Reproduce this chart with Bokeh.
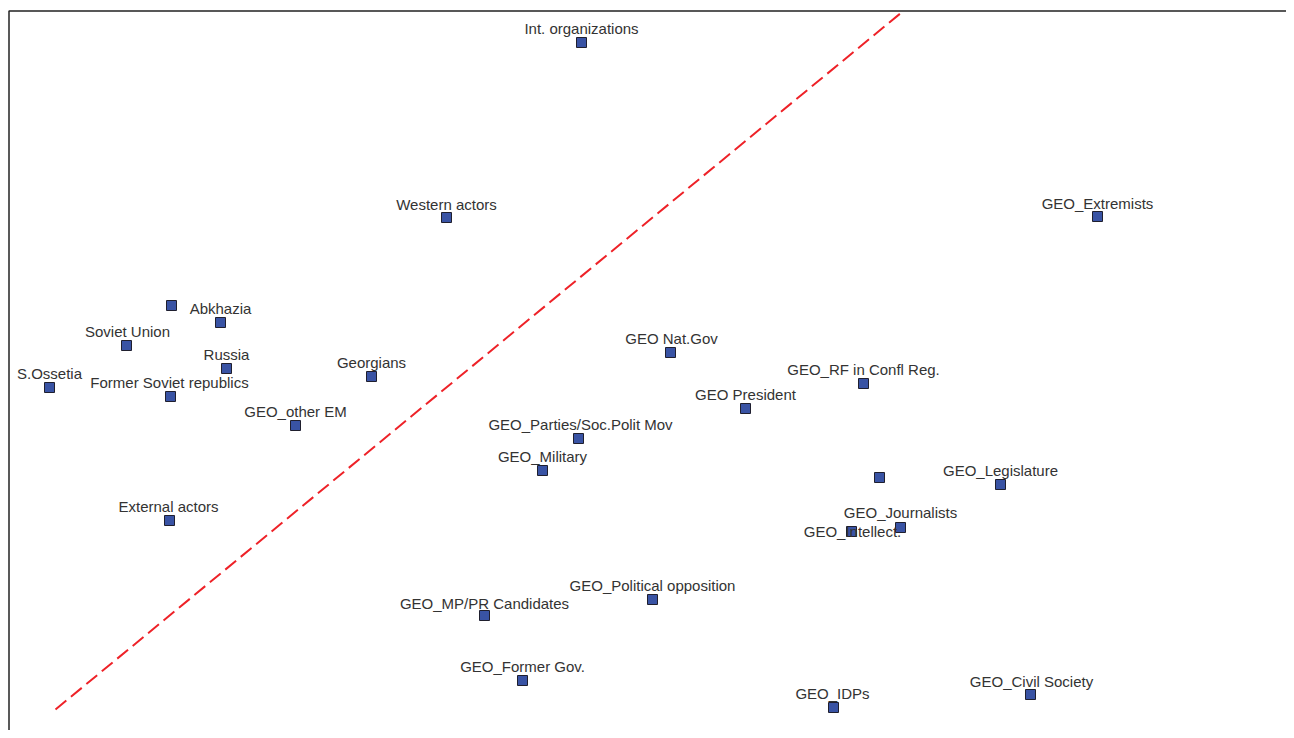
from bokeh.plotting import figure
from bokeh.models import ColumnDataSource, Range1d
from bokeh.core.properties import value
from bokeh.embed import file_html
from bokeh.resources import INLINE

# Actors (perceptual map positions)
names = [
    "Int. organizations", "Western actors", "GEO_Extremists", "", "Abkhazia",
    "Soviet Union", "Russia", "S.Ossetia", "Former Soviet republics", "Georgians",
    "GEO_other EM", "GEO Nat.Gov", "GEO_RF in Confl Reg.", "GEO President",
    "GEO_Parties/Soc.Polit Mov", "GEO_Military", "", "GEO_Legislature",
    "GEO_Journalists", "GEO_Intellect.", "External actors",
    "GEO_Political opposition", "GEO_MP/PR Candidates", "GEO_Former Gov.",
    "GEO_IDPs", "GEO_Civil Society",
]
dim1 = [581, 446, 1097, 171, 220, 126, 226, 49, 170, 371, 295, 670, 863, 745,
        578, 542, 879, 1000, 900, 851, 169, 652, 484, 522, 833, 1030]
dim2 = [696, 521, 522, 433, 416, 393, 370, 351, 342, 362, 313, 386, 355, 330,
        300, 268, 261, 254, 211, 207, 218, 139, 123, 58, 31, 44]

# Diagonal reference line endpoints
line_x = [55, 901]
line_y = [29, 726]

# Layout: label offsets (screen px)
label_dx = [0, 0, 0, 0, 0, 1, 0, 0, -1, 0, 0, 1, 0, 0, 2, 0, 0, 0, 0, 1, -1, 0, 0, 0, -1, 1]
label_dy = [14, 13, 13, 0, 14, 14, 14, 14, 14, 14, 14, 14, 14, 14, 14, 14, 0, 14, 15, 0, 14, 14, 12, 14, 14, 13]

src = ColumnDataSource(dict(x=dim1, y=dim2, name=names))

X0, X1, Y0, Y1 = 0, 1294, 8, 738
p = figure(width=1286, height=730, output_backend="svg", toolbar_location=None,
           x_range=Range1d(X0, 1286), y_range=Range1d(Y0, Y1),
           x_axis_location=None, y_axis_location=None, min_border=0)
p.grid.visible = False
p.outline_line_color = None
p.background_fill_color = "white"
p.border_fill_color = "white"

# frame: left and top borders only
p.line([8.5, 8.5, X1], [Y0, 727.5, 727.5], line_color="#222222", line_width=1.5)

p.line(line_x, line_y, line_color="#ee2228", line_width=2, line_dash="14 6")

p.scatter("x", "y", source=src, marker="square", size=10,
          fill_color="#3953a4", line_color="#1f1f2e", line_width=1)

for i, n in enumerate(names):
    if not n:
        continue
    p.text(x=[dim1[i]], y=[dim2[i]], text=[n], x_offset=label_dx[i], y_offset=-label_dy[i],
           text_align="center", text_baseline="middle", text_font=value("Liberation Sans"),
           text_font_size="15px", text_color="#333333")

open("out.html", "w").write(file_html(p, INLINE))
